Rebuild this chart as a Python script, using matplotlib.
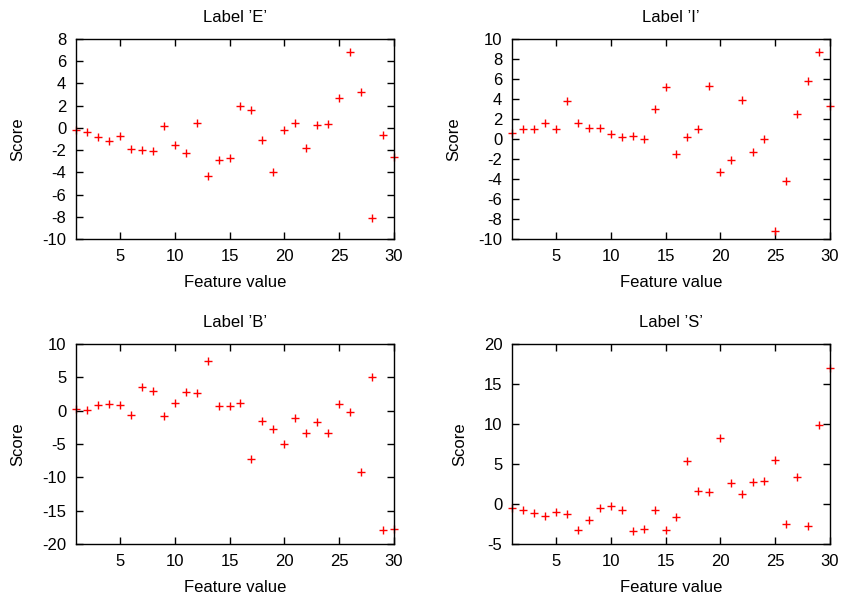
import matplotlib.pyplot as plt
from matplotlib.ticker import MultipleLocator

plt.rcParams['font.family'] = ['Liberation Sans', 'DejaVu Sans']
plt.rcParams['axes.unicode_minus'] = False

features = list(range(1, 31))

score_e = [-0.2, -0.4, -0.8, -1.2, -0.7, -1.9, -1.95, -2.05, 0.15, -1.5,
           -2.25, 0.4, -4.35, -2.9, -2.7, 2.0, 1.6, -1.1, -3.95, -0.15,
           0.45, -1.8, 0.3, 0.35, 2.65, 6.85, 3.2, -8.15, -0.65, -2.65]
score_i = [0.6, 1.05, 1.05, 1.6, 1.0, 3.8, 1.6, 1.1, 1.15, 0.5,
           0.2, 0.3, 0.0, 2.95, 5.15, -1.5, 0.25, 1.0, 5.3, -3.3,
           -2.05, 3.9, -1.3, 0.0, -9.15, -4.2, 2.5, 5.8, 8.65, 3.3]
score_b = [0.3, 0.1, 0.9, 1.05, 0.8, -0.6, 3.6, 2.95, -0.85, 1.15,
           2.8, 2.6, 7.4, 0.65, 0.7, 1.1, -7.25, -1.55, -2.8, -4.95,
           -1.15, -3.3, -1.75, -3.3, 1.0, -0.2, -9.15, 5.1, -17.85, -17.8]
score_s = [-0.55, -0.75, -1.15, -1.45, -1.05, -1.25, -3.2, -2.0, -0.45, -0.2,
           -0.7, -3.35, -3.1, -0.7, -3.2, -1.6, 5.35, 1.6, 1.45, 8.3,
           2.65, 1.2, 2.8, 2.9, 5.5, -2.5, 3.4, -2.8, 9.85, 17.0]

W, H = 843, 598
fig = plt.figure(figsize=(W / 100, H / 100), dpi=100)

# (title, scores, y-range, y-step, left, top) in pixels
panels = [
    ("Label \u2019E\u2019", score_e, (-10, 8), 2, 76, 39),
    ("Label \u2019I\u2019", score_i, (-10, 10), 2, 512, 39),
    ("Label \u2019B\u2019", score_b, (-20, 10), 5, 76, 344),
    ("Label \u2019S\u2019", score_s, (-5, 20), 5, 512, 344),
]
aw, ah = 318, 200
fs = 12

for title, scores, ylim, ystep, left, top in panels:
    ax = fig.add_axes([left / W, 1 - (top + ah) / H, aw / W, ah / H])
    ax.plot(features, scores, linestyle="none", marker="+", color="red",
            markersize=6, markeredgewidth=1.0, clip_on=False)
    ax.set_xlim(1, 30)
    ax.set_ylim(*ylim)
    ax.xaxis.set_major_locator(MultipleLocator(5))
    ax.yaxis.set_major_locator(MultipleLocator(ystep))
    ax.tick_params(direction="in", top=True, right=True, length=5,
                   width=1, labelsize=fs, pad=7)
    for s in ax.spines.values():
        s.set_linewidth(1)
    ax.set_title(title, fontsize=fs, pad=12)
    ax.set_xlabel("Feature value", fontsize=fs, labelpad=8)
    ax.set_ylabel("Score", fontsize=fs, labelpad=12)

fig.savefig("out.png", dpi=100)
